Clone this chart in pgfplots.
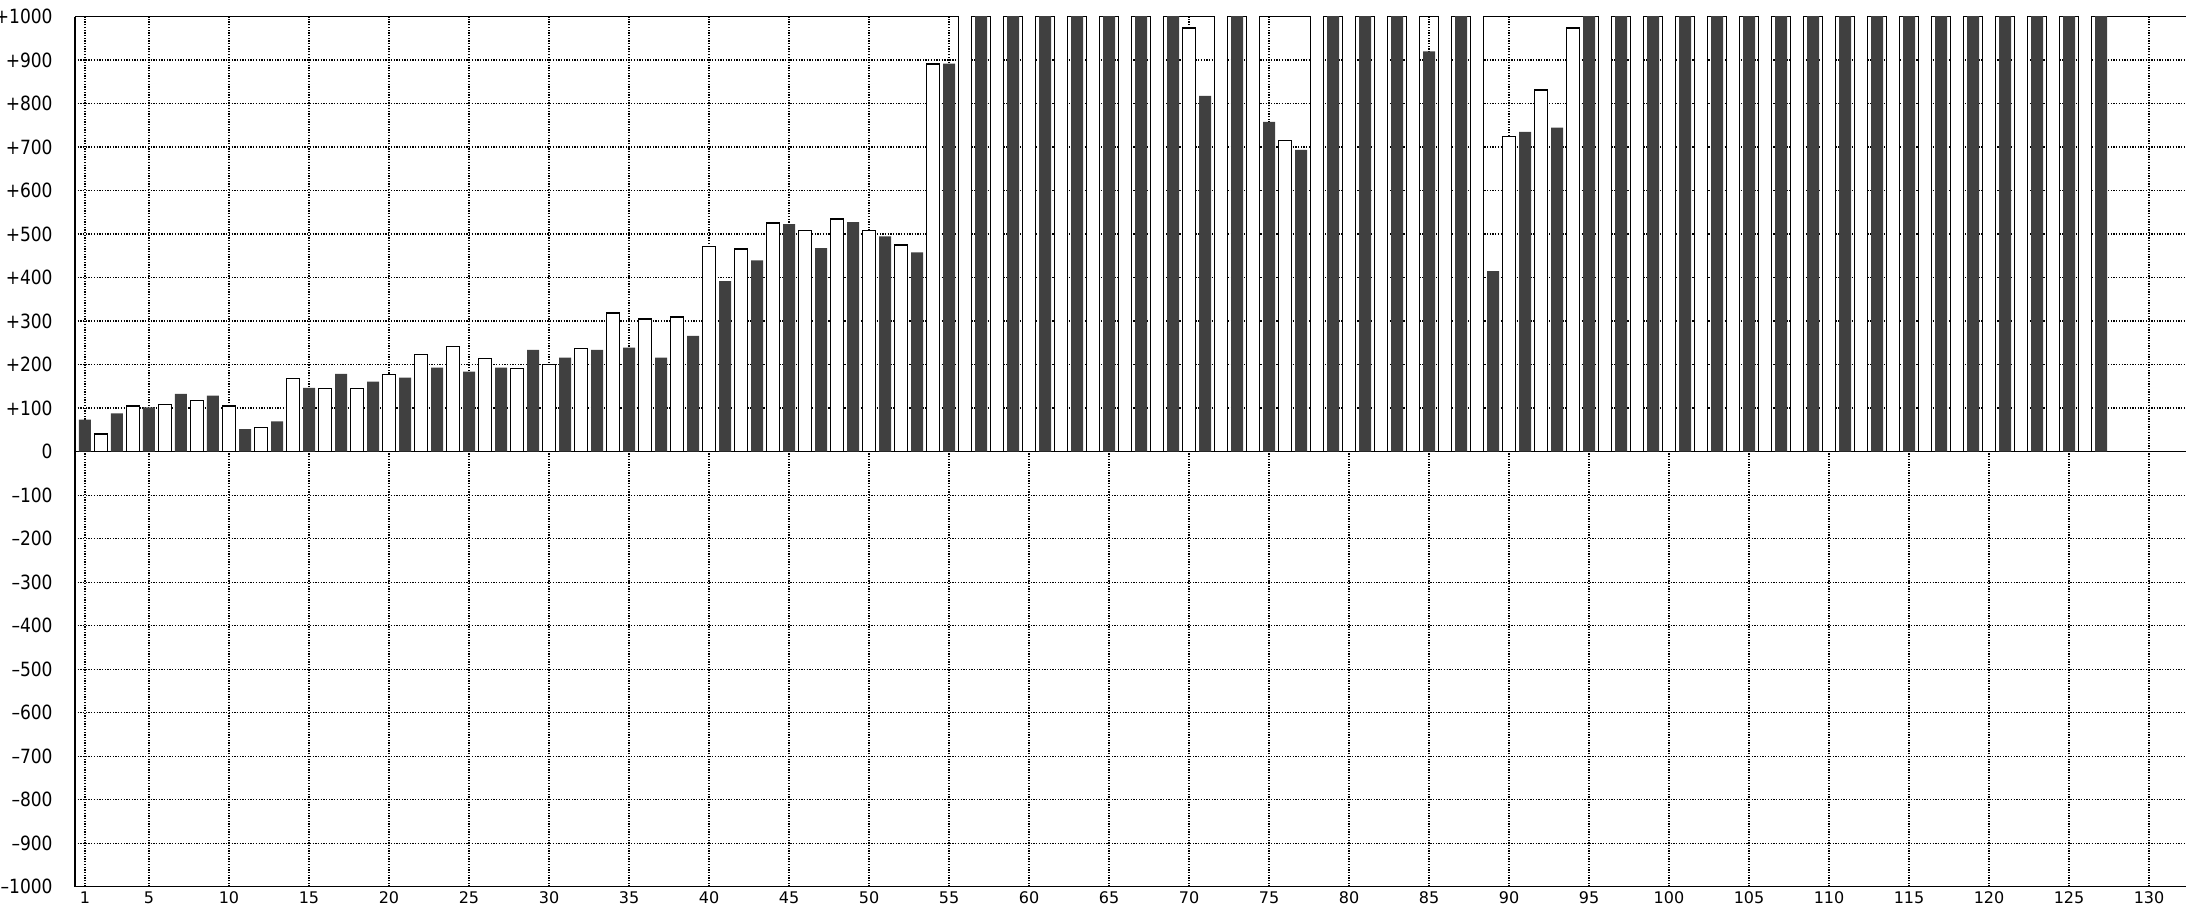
\documentclass[border=0pt]{standalone}
\usepackage{pgfplots}
\pgfplotsset{compat=1.18}
\usepackage{fontspec}
\newfontfamily\yfont[FakeStretch=0.87]{DejaVu Sans}
\newfontfamily\xfont{DejaVu Sans}
\definecolor{darkbar}{RGB}{64,64,64}
\begin{document}
\begin{tikzpicture}
\begin{axis}[
  name=ax, at={(0,0)}, anchor=south west,
  scale only axis, width=1055.5pt, height=435pt,
  xmin=0.375, xmax=132.31, ymin=-1000, ymax=1000,
  axis x line=box, axis y line=left,
  axis line style={-, line width=0.7pt, black},
  major tick length=0pt,
  xtick={1,5,10,15,20,25,30,35,40,45,50,55,60,65,70,75,80,85,90,95,100,105,110,115,120,125,130},
  ytick={-1000,-900,-800,-700,-600,-500,-400,-300,-200,-100,0,100,200,300,400,500,600,700,800,900,1000},
  yticklabels={–1000,–900,–800,–700,–600,–500,–400,–300,–200,–100,0,+100,+200,+300,+400,+500,+600,+700,+800,+900,+1000},
  /pgf/number format/assume math mode=true,
  xticklabel style={font=\xfont\fontsize{8}{9}\selectfont, anchor=north, inner sep=0pt, yshift=-2.4pt},
  yticklabel style={font=\yfont\fontsize{9.8}{11}\selectfont, anchor=east, inner sep=0pt, xshift=-11pt},
  grid=major,
  major grid style={black, line width=0.7pt, dash pattern=on 0.65pt off 0.7pt},
  extra y ticks={0}, extra y tick labels={},
  extra y tick style={grid=major, major grid style={solid, black, line width=0.7pt}},
]
% odd positions: dark bars
\addplot[ybar, bar width=0.75, bar shift=0pt, fill=darkbar, draw=none] coordinates {
(1,74) (3,88) (5,102) (7,133) (9,129) (11,52) (13,70) (15,147) (17,179) (19,161)
(21,170) (23,193) (25,184) (27,193) (29,234) (31,216) (33,234) (35,239) (37,216) (39,266)
(41,392) (43,440) (45,523) (47,468) (49,528) (51,495) (53,458) (55,892) (57,1050) (59,1050)
(61,1050) (63,1050) (65,1050) (67,1050) (69,1050) (71,818) (73,1050) (75,758) (77,694) (79,1050)
(81,1050) (83,1050) (85,920) (87,1050) (89,415) (91,735) (93,745) (95,1050) (97,1050) (99,1050)
(101,1050) (103,1050) (105,1050) (107,1050) (109,1050) (111,1050) (113,1050) (115,1050) (117,1050) (119,1050)
(121,1050) (123,1050) (125,1050) (127,1050)
};
% even positions: white bars
\addplot[ybar, bar width=0.79, bar shift=0pt, fill=white, draw=black, line width=0.72pt] coordinates {
(2,41) (4,105) (6,109) (8,118) (10,105) (12,55) (14,168) (16,145) (18,145) (20,177)
(22,223) (24,242) (26,214) (28,191) (30,201) (32,237) (34,319) (36,305) (38,310) (40,472)
(42,466) (44,526) (46,508) (48,535) (50,508) (52,475) (54,891) (56,1050) (58,1050) (60,1050)
(62,1050) (64,1050) (66,1050) (68,1050) (70,974) (72,1050) (74,1050) (76,715) (78,1050) (80,1050)
(82,1050) (84,1050) (86,1050) (88,1050) (90,725) (92,831) (94,974) (96,1050) (98,1050) (100,1050)
(102,1050) (104,1050) (106,1050) (108,1050) (110,1050) (112,1050) (114,1050) (116,1050) (118,1050) (120,1050)
(122,1050) (124,1050) (126,1050)
};
\end{axis}
\pgfresetboundingbox
\useasboundingbox (-37.5pt,-9.65pt) rectangle (1055.5pt,443.35pt);
\end{tikzpicture}
\end{document}
